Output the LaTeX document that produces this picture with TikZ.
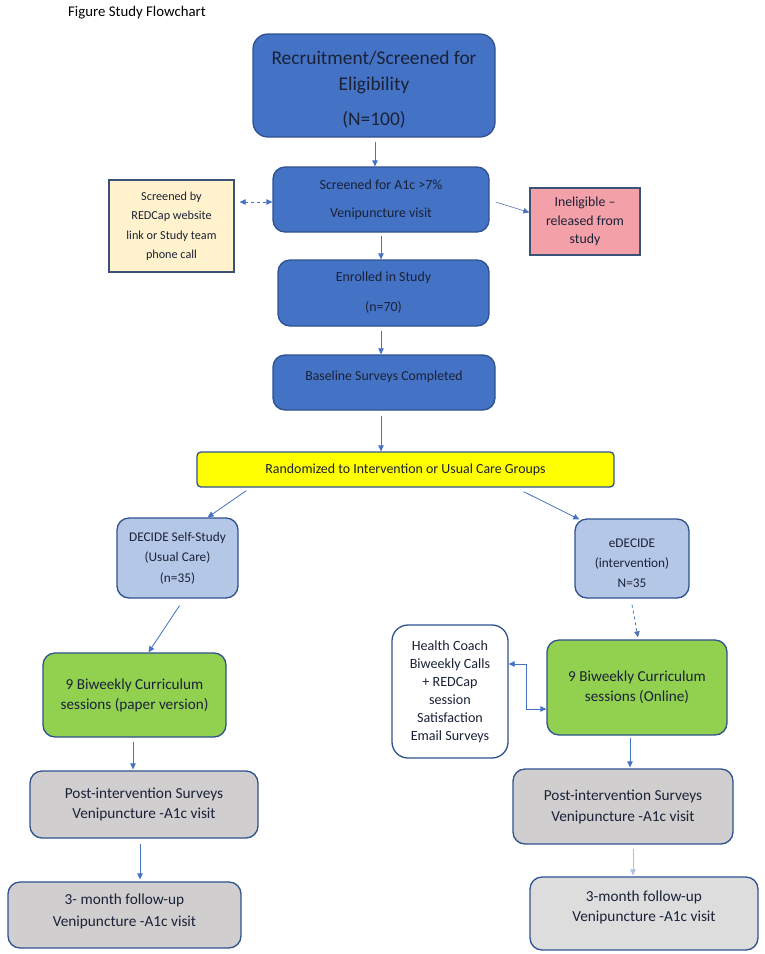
\documentclass[tikz,border=0pt]{standalone}
\usepackage{fontspec}
\setmainfont{Carlito}
\usetikzlibrary{arrows.meta,calc}
\definecolor{bordc}{HTML}{2F528F}
\definecolor{blueA}{HTML}{4472C4}
\definecolor{lblue}{HTML}{B4C7E7}
\definecolor{greenA}{HTML}{92D050}
\definecolor{ylwA}{HTML}{FFFF00}
\definecolor{cream}{HTML}{FFF2CC}
\definecolor{pinkA}{HTML}{F4A0A8}
\definecolor{greyA}{HTML}{D0CECE}
\definecolor{greyB}{HTML}{DDDDDD}
\definecolor{txtc}{HTML}{1B2238}
\definecolor{arrc}{HTML}{4472C4}
\definecolor{sqbord}{HTML}{3B5178}
\newcommand\liftby[2]{\raisebox{0pt}[\height][\dimexpr\depth+#1\relax]{\begin{tabular}{@{}c@{}}#2\end{tabular}}}
\newcommand\dropby[2]{\raisebox{0pt}[\dimexpr\height+#1\relax][\depth]{\begin{tabular}{@{}c@{}}#2\end{tabular}}}
\tikzset{
  blk/.style={draw=bordc, line width=1.3pt, rounded corners=12pt, inner sep=0pt, align=center, text=txtc},
  sqbox/.style={draw=sqbord, line width=1.3pt, inner sep=0pt, align=center, text=txtc},
  sz/.style 2 args={minimum width=#1pt, minimum height=#2pt},
  arr/.style={draw=arrc, line width=0.8pt, -{Triangle[length=6pt,width=5.5pt]}},
  darr/.style={draw=arrc, line width=0.8pt, {Triangle[length=6pt,width=5.5pt]}-{Triangle[length=6pt,width=5.5pt]}},
}
\begin{document}
\begin{tikzpicture}[x=1pt,y=-1pt]
\useasboundingbox[fill=white] (0,0) rectangle (765,954);

\node[anchor=west, font=\fontsize{14.8}{16}\selectfont, text=black, inner sep=0pt] (title) at (68,13) {Figure Study Flowchart};

\node[blk, fill=blueA, sz={242}{103}, rounded corners=15pt, font=\fontsize{19.4}{26}\selectfont] (rec) at (374,85.5) {\dropby{8pt}{Recruitment/Screened for\\Eligibility\\[9pt](N=100)}};

\node[blk, fill=blueA, sz={216}{65}, font=\fontsize{13.9}{28}\selectfont] (scr) at (381,199.5) {Screened for A1c >7\%\\Venipuncture visit};

\node[sqbox, fill=cream, sz={125}{92}, font=\fontsize{12.2}{19.5}\selectfont] (redcap) at (171.5,226) {Screened by\\REDCap website\\link or Study team\\phone call};

\node[sqbox, fill=pinkA, sz={110}{67}, font=\fontsize{13.8}{18.5}\selectfont] (inel) at (585,221.5) {Ineligible –\\released from\\study};

\node[blk, fill=blueA, sz={211}{66}, font=\fontsize{13.9}{30}\selectfont] (enr) at (383.5,293) {Enrolled in Study\\(n=70)};

\node[blk, fill=blueA, sz={222}{55}, font=\fontsize{13.8}{16}\selectfont] (base) at (384,382.5) {\liftby{11pt}{Baseline Surveys Completed}};

\node[blk, fill=ylwA, rounded corners=4pt, sz={417}{35}, font=\fontsize{13.9}{16}\selectfont] (rand) at (405.5,469.5) {Randomized to Intervention or Usual Care Groups};

\node[blk, fill=lblue, sz={121}{80}, font=\fontsize{13.3}{20.5}\selectfont] (dec) at (177.5,558) {DECIDE Self-Study\\(Usual Care)\\(n=35)};

\node[blk, fill=lblue, sz={114}{79}, font=\fontsize{13.3}{20}\selectfont] (edec) at (632,558.5) {\dropby{10pt}{eDECIDE\\(intervention)\\N=35}};

\node[blk, fill=greenA, sz={183}{84}, font=\fontsize{15.2}{20}\selectfont] (gl) at (134.5,695) {9 Biweekly Curriculum\\sessions (paper version)};

\node[blk, fill=greenA, sz={180}{95}, font=\fontsize{15.2}{19.5}\selectfont] (gr) at (637,687.5) {9 Biweekly Curriculum\\sessions (Online)};

\node[blk, fill=white, sz={116}{133}, rounded corners=16pt, font=\fontsize{14.1}{18}\selectfont] (hc) at (450,691.5) {Health Coach\\Biweekly Calls\\+ REDCap\\session\\Satisfaction\\Email Surveys};

\node[blk, fill=greyA, sz={228}{67}, font=\fontsize{15.3}{19.5}\selectfont] (glp) at (144,804.5) {Post-intervention Surveys\\Venipuncture -A1c visit};

\node[blk, fill=greyA, sz={233}{66}, font=\fontsize{15.3}{22}\selectfont] (gl3) at (124.5,915) {\liftby{8pt}{3- month follow-up\\Venipuncture -A1c visit}};

\node[blk, fill=greyA, sz={220}{75}, font=\fontsize{15.3}{21}\selectfont] (grp) at (623,806.5) {Post-intervention Surveys\\Venipuncture -A1c visit};

\node[blk, fill=greyB, sz={228}{73}, font=\fontsize{15.3}{20}\selectfont] (gr3) at (644,913.5) {\liftby{13pt}{3-month follow-up\\Venipuncture -A1c visit}};

% connectors
\coordinate (a1) at ($(rec.south)+(1,4)$);
\draw[arr] (a1) -- (a1 |- scr.north);
\coordinate (a2) at ($(scr.south)+(0,3)$);
\draw[arr] (a2) -- (a2 |- enr.north);
\coordinate (a3) at ($(enr.south)+(-2.5,4)$);
\draw[arr] (a3) -- (a3 |- base.north);
\coordinate (a4) at ($(base.south)+(-3,5)$);
\draw[arr] (a4) -- (a4 |- rand.north);
\coordinate (rcE) at ($(redcap.east |- scr.west)+(5,2.5)$);
\coordinate (scW) at ($(scr.west)+(0,2.5)$);
\draw[darr, dashed] (rcE) -- (scW);
\coordinate (scE) at ($(scr.east)+(6,2.5)$);
\coordinate (inW) at ($(inel.west)+(0,-9)$);
\draw[arr, draw=arrc!80!gray, line width=0.6pt] (scE) -- (inW);
\coordinate (rdL) at ($(rand.south west)+(50,3)$);
\coordinate (dcT) at ($(dec.north east)+(-31,0)$);
\draw[arr] (rdL) -- (dcT);
\coordinate (rdR) at ($(rand.south east)+(-91,4)$);
\coordinate (edT) at ($(edec.north west)+(5,1)$);
\draw[arr] (rdR) -- (edT);
\coordinate (dcB) at ($(dec.south)+(2,7)$);
\coordinate (glT) at ($(gl.north)+(14,0)$);
\draw[arr] (dcB) -- (glT);
\coordinate (edB) at ($(edec.south)+(0,6)$);
\coordinate (grT) at ($(gr.north)+(1,-2)$);
\draw[arr, dashed, draw=arrc!80!gray] (edB) -- (grT);
\coordinate (hcE) at ($(hc.east)+(0,-27.5)$);
\coordinate (grW) at ($(gr.west)+(0,21.5)$);
\draw[darr] (hcE) -| ($(grW)+(-20,0)$) -- (grW);
\coordinate (glB) at ($(gl.south)+(-1.5,4)$);
\draw[arr] (glB) -- ($(glB |- glp.north)+(0,-1)$);
\coordinate (glpB) at ($(glp.south)+(-4,5)$);
\draw[arr] (glpB) -- ($(glpB |- gl3.north)+(0,-2)$);
\coordinate (grB) at ($(gr.south)+(-7,2)$);
\draw[arr] (grB) -- ($(grB |- grp.north)+(0,-1)$);
\coordinate (grpB) at ($(grp.south)+(10,4)$);
\draw[arr, draw=arrc!45] (grpB) -- ($(grpB |- gr3.north)+(0,-1)$);
\end{tikzpicture}
\end{document}
